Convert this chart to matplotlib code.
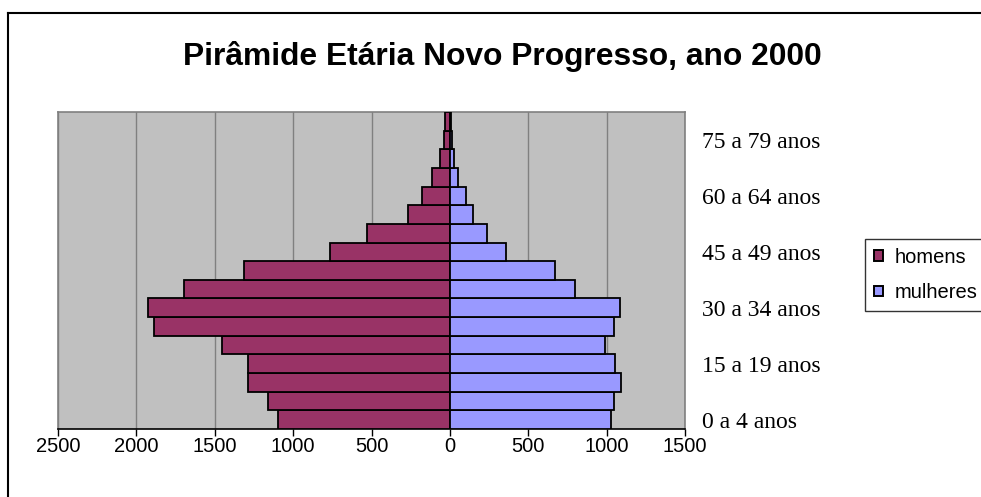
import matplotlib.pyplot as plt
from matplotlib.patches import Patch
from matplotlib.lines import Line2D

# faixas etarias de 5 em 5 anos, de baixo para cima
faixas = ["0 a 4 anos", "5 a 9 anos", "10 a 14 anos", "15 a 19 anos",
          "20 a 24 anos", "25 a 29 anos", "30 a 34 anos", "35 a 39 anos",
          "40 a 44 anos", "45 a 49 anos", "50 a 54 anos", "55 a 59 anos",
          "60 a 64 anos", "65 a 69 anos", "70 a 74 anos", "75 a 79 anos",
          "80 anos e mais"]

homens = [1096, 1159, 1285, 1287, 1452, 1890, 1925, 1694, 1312,
          764, 531, 268, 180, 117, 66, 40, 30]
mulheres = [1030, 1045, 1093, 1055, 991, 1045, 1083, 800, 673,
            355, 240, 147, 104, 51, 28, 15, 7]

xticks = [-2500, -2000, -1500, -1000, -500, 0, 500, 1000, 1500]
xlabels = ["2500", "2000", "1500", "1000", "500", "0", "500", "1000", "1500"]

W, H = 981, 497
fig = plt.figure(figsize=(W / 100, H / 100), dpi=100)
ax = fig.add_axes([58 / W, (H - 429) / H, (685 - 58) / W, (429 - 112) / H])
ax.set_facecolor("#C0C0C0")

pos = list(range(len(faixas)))
ax.barh(pos, [-v for v in homens], height=1.0, color="#993366",
        edgecolor="black", linewidth=1.3, zorder=3)
ax.barh(pos, mulheres, height=1.0, color="#9999FF",
        edgecolor="black", linewidth=1.3, zorder=3)

ax.set_xlim(-2500, 1500)
ax.set_ylim(-0.5, len(faixas) - 0.5)
ax.set_xticks(xticks)
ax.set_xticklabels(xlabels, family="Liberation Sans", fontsize=14.5)
ax.grid(axis="x", color="#808080", linewidth=1, zorder=1)
ax.tick_params(axis="x", direction="out", length=5, width=1, pad=1)

ax.yaxis.tick_right()
ax.set_yticks(pos[::3])
ax.set_yticklabels(faixas[::3], family="Liberation Serif", fontsize=17)
ax.tick_params(axis="y", length=0, pad=12)

for s in ["left", "top", "right"]:
    ax.spines[s].set_color("#808080")
    ax.spines[s].set_linewidth(1.2)
ax.spines["bottom"].set_color("black")
ax.spines["bottom"].set_linewidth(1.2)

fig.text(502 / W, 1 - 57 / H, "Pirâmide Etária Novo Progresso, ano 2000",
         family="Liberation Sans", fontweight="bold", fontsize=22.9,
         ha="center", va="center")

handles = [Patch(facecolor="#993366", edgecolor="black", linewidth=1.4),
           Patch(facecolor="#9999FF", edgecolor="black", linewidth=1.4)]
leg = fig.legend(handles, ["homens", "mulheres"], loc="upper left",
                 bbox_to_anchor=(865 / W, 1 - 239 / H), frameon=True,
                 fancybox=False, shadow=False, borderaxespad=0,
                 prop={"family": "Liberation Sans", "size": 14.5},
                 handlelength=0.45, handleheight=0.45, handletextpad=0.55,
                 labelspacing=0.8, borderpad=0.45)
leg.get_frame().set_edgecolor("black")
leg.get_frame().set_linewidth(1)

# moldura do grafico
fig.add_artist(Line2D([8 / W, 8 / W], [0, 1 - 13 / H], color="black",
                      linewidth=1.5, transform=fig.transFigure))
fig.add_artist(Line2D([8 / W, 1], [1 - 13 / H, 1 - 13 / H], color="black",
                      linewidth=1.5, transform=fig.transFigure))

fig.savefig("out.png", dpi=100)
